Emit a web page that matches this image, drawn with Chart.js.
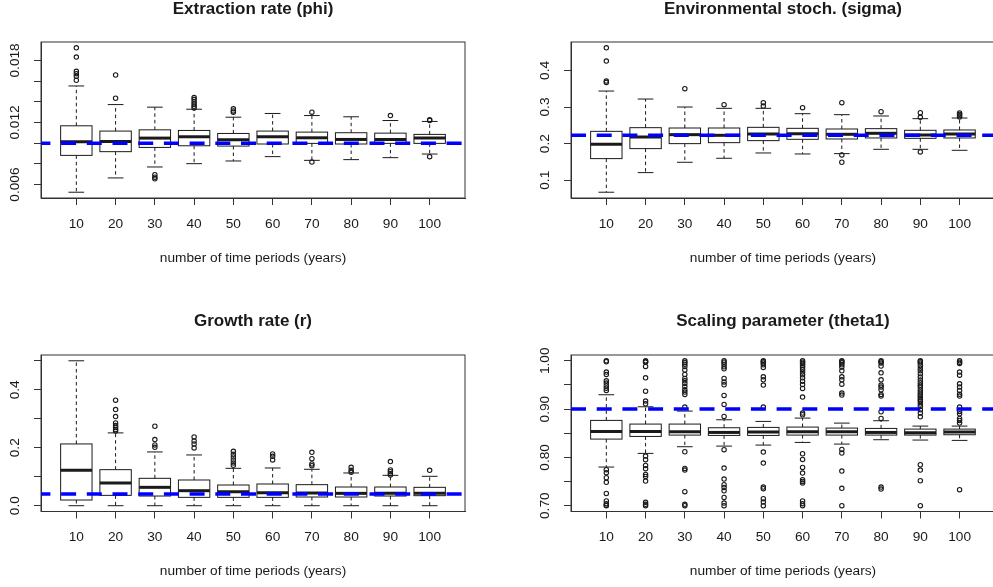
<!DOCTYPE html>
<html>
<head>
<meta charset="utf-8">
<script src="https://cdn.jsdelivr.net/npm/chart.js@4.4.1/dist/chart.umd.min.js"></script>
<style>
  html, body { margin: 0; padding: 0; background: #fff; overflow: hidden; }
  #page { position: relative; width: 993px; height: 587px; overflow: hidden; }
  canvas { position: absolute; }
</style>
</head>
<body>
<div id="page">
  <canvas id="phi" width="496" height="293" style="left:0;top:0"></canvas>
  <canvas id="sigma" width="504" height="293" style="left:496px;top:0"></canvas>
  <canvas id="r" width="496" height="294" style="left:0;top:293px"></canvas>
  <canvas id="theta" width="504" height="294" style="left:496px;top:293px"></canvas>
</div>
<script>
const years = ['10', '20', '30', '40', '50', '60', '70', '80', '90', '100'];

// Extraction rate (phi)
const phiLower  = [0.00526, 0.00664, 0.00770, 0.00802, 0.00828, 0.00870, 0.00834, 0.00841, 0.00860, 0.00895];
const phiQ1     = [0.00882, 0.00918, 0.00959, 0.00975, 0.00972, 0.00992, 0.00998, 0.00992, 0.00998, 0.00998];
const phiMedian = [0.01014, 0.01017, 0.01049, 0.01062, 0.01033, 0.01062, 0.01052, 0.01036, 0.01036, 0.01049];
const phiQ3     = [0.01168, 0.01117, 0.01129, 0.01123, 0.01094, 0.01117, 0.01107, 0.01101, 0.01097, 0.01085];
const phiUpper  = [0.01553, 0.01373, 0.01348, 0.01328, 0.01251, 0.01287, 0.01267, 0.01255, 0.01219, 0.01210];
const phiOutliers = [
  [0.01922, 0.01832, 0.01694, 0.01672, 0.01646, 0.01608],
  [0.01659, 0.01434],
  [0.00696, 0.00671, 0.00655],
  [0.01441, 0.01421, 0.01399, 0.01377, 0.01357, 0.01341],
  [0.01332, 0.01312, 0.01300],
  [],
  [0.01300, 0.00818],
  [],
  [0.01267],
  [0.01226, 0.01219, 0.00870]
];
const phiTrue = 0.010;
const phiTicks = [0.006, 0.008, 0.010, 0.012, 0.014, 0.016, 0.018];
const phiTickLabels = ['0.006', '', '', '0.012', '', '', '0.018'];

// Environmental stochasticity (sigma)
const sigmaLower  = [0.0673, 0.1209, 0.1491, 0.1600, 0.1745, 0.1718, 0.1727, 0.1845, 0.1845, 0.1818];
const sigmaQ1     = [0.1591, 0.1864, 0.2000, 0.2027, 0.2082, 0.2118, 0.2127, 0.2155, 0.2145, 0.2155];
const sigmaMedian = [0.1982, 0.2182, 0.2245, 0.2227, 0.2264, 0.2273, 0.2255, 0.2282, 0.2236, 0.2264];
const sigmaQ3     = [0.2336, 0.2436, 0.2427, 0.2427, 0.2445, 0.2418, 0.2400, 0.2409, 0.2364, 0.2373];
const sigmaUpper  = [0.3436, 0.3218, 0.3000, 0.2964, 0.2964, 0.2818, 0.2791, 0.2755, 0.2682, 0.2700];
const sigmaOutliers = [
  [0.4618, 0.4255, 0.3709, 0.3673],
  [],
  [0.3500],
  [0.3064],
  [0.3118, 0.3027],
  [0.2982],
  [0.3118, 0.1691, 0.1491],
  [0.2873],
  [0.2845, 0.2718, 0.1773],
  [0.2836, 0.2800, 0.2764, 0.2727]
];
const sigmaTrue = 0.223;
const sigmaTicks = [0.1, 0.2, 0.3, 0.4];
const sigmaTickLabels = ['0.1', '0.2', '0.3', '0.4'];

// Growth rate (r)
const rLower  = [0, 0, 0, 0, 0, 0, 0, 0, 0, 0];
const rQ1     = [0.0196, 0.0357, 0.0334, 0.0288, 0.0288, 0.0288, 0.0300, 0.0300, 0.0334, 0.0346];
const rMedian = [0.1221, 0.0783, 0.0634, 0.0518, 0.0484, 0.0449, 0.0438, 0.0426, 0.0426, 0.0426];
const rQ3     = [0.2131, 0.1244, 0.0945, 0.0887, 0.0714, 0.0749, 0.0726, 0.0645, 0.0645, 0.0634];
const rUpper  = [0.5000, 0.2512, 0.1855, 0.1751, 0.1290, 0.1302, 0.1256, 0.1129, 0.1048, 0.1014];
const rOutliers = [
  [],
  [0.3640, 0.3318, 0.3076, 0.2857, 0.2765, 0.2696, 0.2627, 0.2580],
  [0.2742, 0.2281, 0.2097, 0.2016],
  [0.2373, 0.2235, 0.2131, 0.1993],
  [0.1878, 0.1774, 0.1682, 0.1578, 0.1475, 0.1394],
  [0.1786, 0.1705, 0.1578],
  [0.1843, 0.1624, 0.1440, 0.1382],
  [0.1325, 0.1221, 0.1152],
  [0.1521, 0.1233, 0.1175, 0.1106, 0.1060],
  [0.1221]
];
const rTrue = 0.04;
const rTicks = [0, 0.1, 0.2, 0.3, 0.4, 0.5];
const rTickLabels = ['0.0', '', '0.2', '', '0.4', ''];

// Scaling parameter (theta1)
const thetaLower  = [0.7800, 0.8083, 0.8221, 0.8234, 0.8255, 0.8310, 0.8276, 0.8366, 0.8359, 0.8352];
const thetaQ1     = [0.8379, 0.8434, 0.8462, 0.8455, 0.8455, 0.8462, 0.8462, 0.8462, 0.8462, 0.8469];
const thetaMedian = [0.8538, 0.8538, 0.8531, 0.8517, 0.8524, 0.8531, 0.8531, 0.8517, 0.8510, 0.8524];
const thetaQ3     = [0.8766, 0.8690, 0.8690, 0.8614, 0.8621, 0.8628, 0.8607, 0.8600, 0.8586, 0.8586];
const thetaUpper  = [0.9297, 0.9048, 0.8959, 0.8779, 0.8745, 0.8814, 0.8710, 0.8759, 0.8648, 0.8648];
const thetaOutliers = [
  [1.0, 0.998, 0.9766, 0.9717, 0.9586, 0.9538, 0.9483, 0.9434, 0.9386,
   0.7745, 0.7683, 0.7579, 0.7483, 0.7255, 0.7097, 0.7041, 0.701, 0.70],
  [1.0, 0.998, 0.9972, 0.9883, 0.9648, 0.9372, 0.9166, 0.911,
   0.8028, 0.7952, 0.7834, 0.7766, 0.7648, 0.7607, 0.751, 0.7069, 0.7028, 0.70],
  [1.0, 0.9966, 0.9931, 0.9883, 0.9807, 0.9717, 0.9634, 0.9586, 0.9531, 0.9469, 0.94, 0.9352, 0.9303, 0.9041,
   0.8117, 0.7772, 0.7738, 0.729, 0.7028, 0.70],
  [1.0, 0.9972, 0.9931, 0.9876, 0.9834, 0.9634, 0.9559, 0.9503, 0.9283, 0.9097, 0.8848,
   0.8159, 0.7779, 0.7552, 0.7434, 0.7379, 0.731, 0.7172, 0.7055, 0.70],
  [1.0, 0.998, 0.9952, 0.9917, 0.9862, 0.9669, 0.9607, 0.9497, 0.9041,
   0.811, 0.7883, 0.7386, 0.7352, 0.7145, 0.7076, 0.70],
  [1.0, 0.9972, 0.9945, 0.991, 0.9869, 0.9821, 0.9766, 0.971, 0.9648, 0.9579, 0.951, 0.9428, 0.9248, 0.8917, 0.8883,
   0.8076, 0.7959, 0.7793, 0.7676, 0.7538, 0.7503, 0.7469, 0.7097, 0.7041, 0.70],
  [1.0, 0.998, 0.9959, 0.9917, 0.9869, 0.9793, 0.9669, 0.9607, 0.9517, 0.9331, 0.929,
   0.8166, 0.809, 0.7717, 0.7359, 0.70],
  [1.0, 0.998, 0.9952, 0.989, 0.9752, 0.9607, 0.9497, 0.9455, 0.94, 0.9303, 0.9269, 0.8945, 0.8807,
   0.7386, 0.7345],
  [1.0, 0.998, 0.9952, 0.9903, 0.9848, 0.9793, 0.9731, 0.9662, 0.96, 0.9545, 0.9497, 0.9455, 0.94, 0.9352,
   0.931, 0.9269, 0.9228, 0.9193, 0.9159, 0.9103, 0.9055, 0.8986, 0.8917, 0.8841,
   0.7848, 0.7738, 0.7517, 0.70],
  [1.0, 0.9972, 0.9945, 0.9766, 0.9703, 0.9524, 0.9455, 0.9386, 0.931, 0.9269, 0.9041, 0.8952, 0.8903,
   0.8807, 0.8766, 0.871, 0.7331]
];
const thetaTrue = 0.90;
const thetaTicks = [0.70, 0.75, 0.80, 0.85, 0.90, 0.95, 1.00];
const thetaTickLabels = ['0.70', '', '0.80', '', '0.90', '', '1.00'];

const FONT = '"Liberation Sans", Arial, Helvetica, sans-serif';
const INK = '#1a1a1a';
const AXIS = '#333333';
const X_MIN = 0.1, X_MAX = 10.9;

const panels = [
  { id: 'phi', title: 'Extraction rate (phi)',
    lower: phiLower, q1: phiQ1, median: phiMedian, q3: phiQ3, upper: phiUpper,
    outliers: phiOutliers, truth: phiTrue, ticks: phiTicks, tickLabels: phiTickLabels,
    area: { left: 41, top: 42, right: 465, bottom: 198 }, titleY: 9, xlabelY: 258.7, dashOffset: 5.6 },
  { id: 'sigma', title: 'Environmental stoch. (sigma)',
    lower: sigmaLower, q1: sigmaQ1, median: sigmaMedian, q3: sigmaQ3, upper: sigmaUpper,
    outliers: sigmaOutliers, truth: sigmaTrue, ticks: sigmaTicks, tickLabels: sigmaTickLabels,
    area: { left: 75, top: 42, right: 499, bottom: 198 }, titleY: 9, xlabelY: 258.7, dashOffset: 0 },
  { id: 'r', title: 'Growth rate (r)',
    lower: rLower, q1: rQ1, median: rMedian, q3: rQ3, upper: rUpper,
    outliers: rOutliers, truth: rTrue, ticks: rTicks, tickLabels: rTickLabels,
    area: { left: 41, top: 62, right: 465, bottom: 218.5 }, titleY: 28, xlabelY: 278.7, dashOffset: 5.6 },
  { id: 'theta', title: 'Scaling parameter (theta1)',
    lower: thetaLower, q1: thetaQ1, median: thetaMedian, q3: thetaQ3, upper: thetaUpper,
    outliers: thetaOutliers, truth: thetaTrue, ticks: thetaTicks, tickLabels: thetaTickLabels,
    area: { left: 75, top: 62, right: 499, bottom: 218.5 }, titleY: 28, xlabelY: 278.7, dashOffset: 0 }
];

// y limits like R: data range stretched by 4% each side
function yRange(p) {
  const all = p.lower.concat(p.upper, p.outliers.flat());
  const lo = Math.min(...all), hi = Math.max(...all);
  const pad = (hi - lo) * 0.04;
  return [lo - pad, hi + pad];
}

// boxes, whiskers and staples, plus the frame and rotated y labels
function boxPlot(p) {
  return {
    id: 'boxplot',
    beforeDatasetsDraw(chart) {
      const { ctx, chartArea: a } = chart;
      const xs = chart.scales.x, ys = chart.scales.y;
      const half = xs.getPixelForValue(0.4) - xs.getPixelForValue(0);
      const cap = xs.getPixelForValue(0.2) - xs.getPixelForValue(0);
      ctx.save();
      ctx.strokeStyle = INK;
      ctx.lineWidth = 1;
      p.median.forEach((m, i) => {
        const cx = xs.getPixelForValue(i + 1);
        const yLo = ys.getPixelForValue(p.lower[i]);
        const yQ1 = ys.getPixelForValue(p.q1[i]);
        const yQ3 = ys.getPixelForValue(p.q3[i]);
        const yHi = ys.getPixelForValue(p.upper[i]);
        const yMed = ys.getPixelForValue(m);
        ctx.setLineDash([3.5, 3]);
        ctx.beginPath();
        ctx.moveTo(cx, yQ3); ctx.lineTo(cx, yHi);
        ctx.moveTo(cx, yQ1); ctx.lineTo(cx, yLo);
        ctx.stroke();
        ctx.setLineDash([]);
        ctx.beginPath();
        ctx.moveTo(cx - cap, yHi); ctx.lineTo(cx + cap, yHi);
        ctx.moveTo(cx - cap, yLo); ctx.lineTo(cx + cap, yLo);
        ctx.stroke();
        ctx.strokeRect(cx - half, yQ3, 2 * half, yQ1 - yQ3);
        ctx.lineWidth = 3;
        ctx.beginPath();
        ctx.moveTo(cx - half, yMed); ctx.lineTo(cx + half, yMed);
        ctx.stroke();
        ctx.lineWidth = 1;
      });
      ctx.strokeStyle = AXIS;
      ctx.strokeRect(a.left, a.top, a.right - a.left, a.bottom - a.top);
      ctx.restore();
    },
    afterDraw(chart) {
      const { ctx, chartArea: a } = chart;
      const ys = chart.scales.y;
      ctx.save();
      ctx.font = '13.7px ' + FONT;
      ctx.fillStyle = INK;
      ctx.textAlign = 'center';
      ctx.textBaseline = 'middle';
      p.ticks.forEach((v, i) => {
        const label = p.tickLabels[i];
        if (!label) return;
        ctx.save();
        ctx.translate(a.left - 25.6, ys.getPixelForValue(v));
        ctx.rotate(-Math.PI / 2);
        ctx.fillText(label, 0, 0);
        ctx.restore();
      });
      ctx.restore();
    }
  };
}

panels.forEach(p => {
  const canvas = document.getElementById(p.id);
  const W = canvas.width, H = canvas.height;
  const [yMin, yMax] = yRange(p);
  const titleSize = 17;
  const labelSize = 13.7;

  const outlierPoints = [];
  p.outliers.forEach((vals, i) => vals.forEach(v => outlierPoints.push({ x: i + 1, y: v })));

  new Chart(canvas, {
    type: 'scatter',
    data: {
      datasets: [
        {
          type: 'line',
          label: 'true value',
          data: [{ x: X_MIN, y: p.truth }, { x: X_MAX, y: p.truth }],
          borderColor: '#0000ff',
          borderWidth: 3.5,
          borderDash: [15, 10.7],
          borderDashOffset: p.dashOffset,
          pointRadius: 0,
          fill: false
        },
        {
          label: 'outliers',
          data: outlierPoints,
          pointStyle: 'circle',
          pointRadius: 2.2,
          pointBorderWidth: 1.1,
          borderColor: INK,
          backgroundColor: 'rgba(0,0,0,0)'
        }
      ]
    },
    options: {
      responsive: false,
      animation: false,
      events: [],
      layout: { padding: { left: 0, top: 0, right: W - p.area.right, bottom: 0 } },
      plugins: {
        legend: { display: false },
        tooltip: { enabled: false },
        title: {
          display: true,
          fullSize: false,
          text: p.title,
          color: INK,
          font: { family: FONT, size: titleSize, weight: 'bold', lineHeight: 1 },
          padding: {
            top: p.titleY - titleSize / 2,
            bottom: p.area.top - (p.titleY - titleSize / 2) - titleSize
          }
        }
      },
      scales: {
        x: {
          type: 'linear',
          min: X_MIN,
          max: X_MAX,
          afterBuildTicks: s => { s.ticks = years.map((_, i) => ({ value: i + 1 })); },
          afterFit: s => { s.height = H - p.area.bottom; },
          ticks: {
            autoSkip: false,
            maxRotation: 0,
            padding: 12.15,
            color: INK,
            font: { family: FONT, size: labelSize, lineHeight: 1 },
            callback: v => years[Math.round(v) - 1]
          },
          grid: { drawOnChartArea: false, drawTicks: true, tickLength: 7, color: AXIS, tickColor: AXIS },
          border: { display: true, color: AXIS },
          title: {
            display: true,
            text: 'number of time periods (years)',
            color: INK,
            font: { family: FONT, size: labelSize, lineHeight: 1 },
            padding: { top: 0, bottom: H - p.xlabelY - labelSize / 2 }
          }
        },
        y: {
          type: 'linear',
          min: yMin,
          max: yMax,
          afterBuildTicks: s => { s.ticks = p.ticks.map(v => ({ value: v })); },
          afterFit: s => { s.width = p.area.left; },
          ticks: { display: false },
          grid: { drawOnChartArea: false, drawTicks: true, tickLength: 7, color: AXIS, tickColor: AXIS },
          border: { display: true, color: AXIS }
        }
      }
    },
    plugins: [boxPlot(p)]
  });
});
</script>
</body>
</html>
